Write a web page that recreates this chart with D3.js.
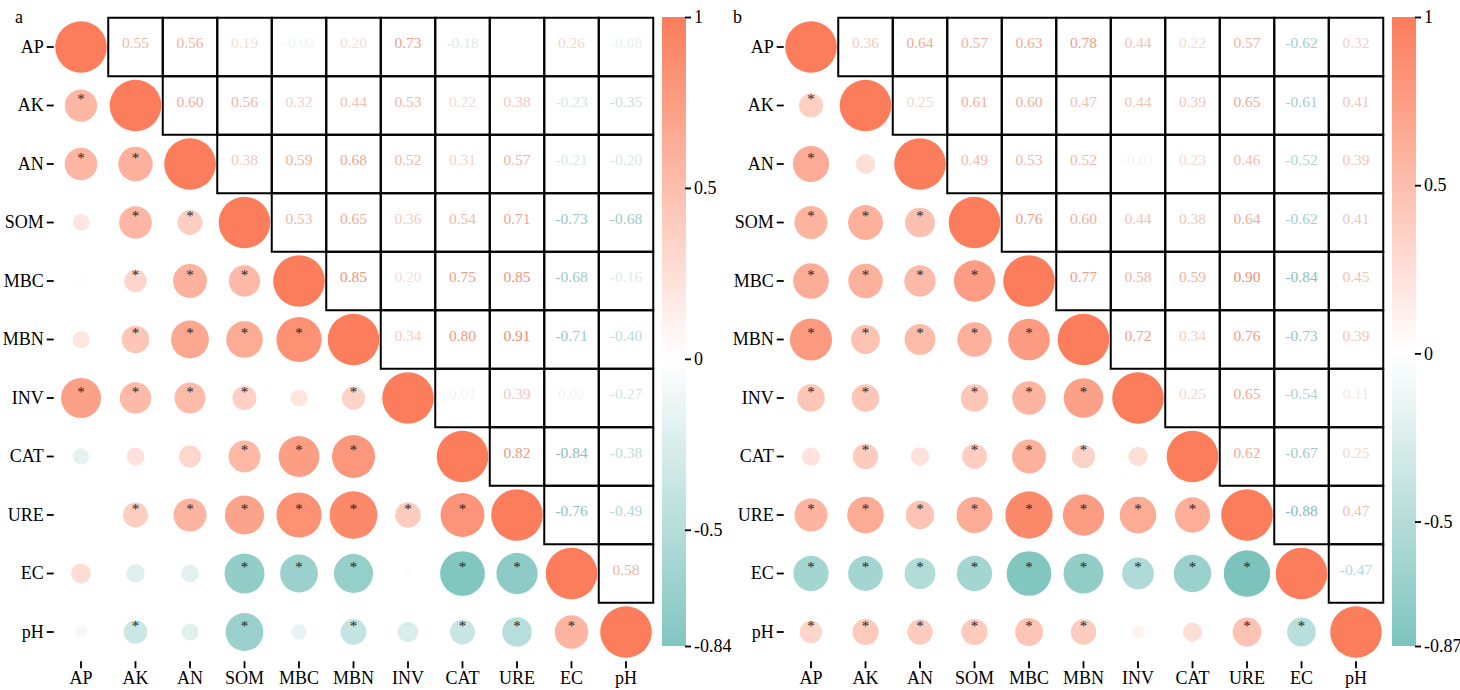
<!DOCTYPE html>
<html>
<head>
<meta charset="utf-8">
<script src="https://cdn.jsdelivr.net/npm/d3@7"></script>
<style>
  body { margin: 0; background: #fff; }
  svg text { font-family: "Liberation Serif", "Times New Roman", serif; }
</style>
</head>
<body>
<svg id="chart" width="1460" height="690"></svg>
<script>
// variables (rows top to bottom, columns left to right)
var vars = ["AP", "AK", "AN", "SOM", "MBC", "MBN", "INV", "CAT", "URE", "EC", "pH"];

// panel a - upper triangle, row i gives r for columns j > i (null = not shown)
var upperA = [
    [0.55, 0.56, 0.19, -0.02, 0.20, 0.73, -0.18, null, 0.26, -0.08],
    [0.60, 0.56, 0.32, 0.44, 0.53, 0.22, 0.38, -0.23, -0.35],
    [0.38, 0.59, 0.68, 0.52, 0.31, 0.57, -0.21, -0.20],
    [0.53, 0.65, 0.36, 0.54, 0.71, -0.73, -0.68],
    [0.85, 0.20, 0.75, 0.85, -0.68, -0.16],
    [0.34, 0.80, 0.91, -0.71, -0.40],
    [0.01, 0.39, 0.02, -0.27],
    [0.82, -0.84, -0.38],
    [-0.76, -0.49],
    [0.58]
];
// panel a - significance (*) in lower triangle, row i gives columns j < i
var sigA = [
    [],
    [1],
    [1, 1],
    [0, 1, 1],
    [0, 1, 1, 1],
    [0, 1, 1, 1, 1],
    [1, 1, 1, 1, 0, 1],
    [0, 0, 0, 1, 1, 1, 0],
    [0, 1, 1, 1, 1, 1, 1, 1],
    [0, 0, 0, 1, 1, 1, 0, 1, 1],
    [0, 1, 0, 1, 0, 1, 0, 1, 1, 1]
];
var legendTicksA = [1, 0.5, 0, -0.5, -0.84];

// panel b
var upperB = [
    [0.36, 0.64, 0.57, 0.63, 0.78, 0.44, 0.22, 0.57, -0.62, 0.32],
    [0.25, 0.61, 0.60, 0.47, 0.44, 0.39, 0.65, -0.61, 0.41],
    [0.49, 0.53, 0.52, -0.01, 0.23, 0.46, -0.52, 0.39],
    [0.76, 0.60, 0.44, 0.38, 0.64, -0.62, 0.41],
    [0.77, 0.58, 0.59, 0.90, -0.84, 0.45],
    [0.72, 0.34, 0.76, -0.73, 0.39],
    [0.25, 0.65, -0.54, 0.11],
    [0.62, -0.67, 0.25],
    [-0.88, 0.47],
    [-0.47]
];
var sigB = [
    [],
    [1],
    [1, 0],
    [1, 1, 1],
    [1, 1, 1, 1],
    [1, 1, 1, 1, 1],
    [1, 1, 0, 1, 1, 1],
    [0, 1, 0, 1, 1, 1, 0],
    [1, 1, 1, 1, 1, 1, 1, 1],
    [1, 1, 1, 1, 1, 1, 1, 1, 1],
    [1, 1, 1, 1, 1, 1, 0, 0, 1, 1]
];
var legendTicksB = [1, 0.5, 0, -0.5, -0.87];

// farbskala
var color = d3.scaleLinear()
    .domain([-1, 0, 1])
    .range(["#6abbb4", "#ffffff", "#fb7d5b"])
    .clamp(true);
// numbers: same scale, a touch darker so near-zero values stay faintly visible
function textColor(r) {
    return d3.interpolateRgb(color(r), "#9aa8a6")(0.12);
}

var radius = d3.scaleLinear().domain([0, 1]).range([4.3, 25.8]);

var serif = '"Liberation Serif", "Times New Roman", serif';
var svg = d3.select("#chart");
var defs = svg.append("defs");

function drawPanel(offsetX, label, labelX, upper, sig, legendTicks, id) {
    var g = svg.append("g").attr("transform", "translate(" + offsetX + ",0)");

    var x = d3.scaleBand().domain(vars).range([53.75, 53.75 + 54.5 * vars.length]);
    var y = d3.scaleBand().domain(vars).range([17.75, 17.75 + 58.5 * vars.length]);

    // build cells
    var cells = [];
    vars.forEach(function (rv, i) {
        vars.forEach(function (cv, j) {
            var r;
            if (i === j) r = 1;
            else if (j > i) r = upper[i][j - i - 1];
            else r = upper[j][i - j - 1];
            cells.push({ row: rv, col: cv, i: i, j: j, r: r, sig: j < i ? sig[i][j] : 0 });
        });
    });

    var upperCells = cells.filter(function (d) { return d.j > d.i; });
    var lowerCells = cells.filter(function (d) { return d.j <= d.i && d.r !== null; });

    // upper triangle boxes + numbers
    g.selectAll("rect.cell").data(upperCells).enter().append("rect")
        .attr("class", "cell")
        .attr("x", function (d) { return x(d.col); })
        .attr("y", function (d) { return y(d.row); })
        .attr("width", x.bandwidth())
        .attr("height", y.bandwidth())
        .attr("fill", "none")
        .attr("stroke", "#000")
        .attr("stroke-width", 2);

    g.selectAll("text.num").data(upperCells.filter(function (d) { return d.r !== null; })).enter().append("text")
        .attr("class", "num")
        .attr("x", function (d) { return x(d.col) + x.bandwidth() / 2; })
        .attr("y", function (d) { return y(d.row) + y.bandwidth() / 2 + 1; })
        .attr("text-anchor", "middle")
        .style("font-size", "15.5px")
        .style("fill", function (d) { return textColor(d.r); })
        .text(function (d) { return d.r.toFixed(2); });

    // lower triangle circles
    g.selectAll("circle.c").data(lowerCells).enter().append("circle")
        .attr("class", "c")
        .attr("cx", function (d) { return x(d.col) + x.bandwidth() / 2; })
        .attr("cy", function (d) { return y(d.row) + y.bandwidth() / 2; })
        .attr("r", function (d) { return radius(Math.abs(d.r)); })
        .attr("fill", function (d) { return color(d.r); });

    g.selectAll("text.star").data(lowerCells.filter(function (d) { return d.sig; })).enter().append("text")
        .attr("class", "star")
        .attr("x", function (d) { return x(d.col) + x.bandwidth() / 2; })
        .attr("y", function (d) { return y(d.row) + y.bandwidth() / 2 - 1.5; })
        .attr("text-anchor", "middle")
        .style("font-size", "15px")
        .style("fill", "#222")
        .text("*");

    // axes
    var yAxis = d3.axisLeft(y).tickSize(7).tickPadding(3);
    var ya = g.append("g").attr("transform", "translate(53.75,0)").call(yAxis);
    var xAxis = d3.axisBottom(x).tickSize(7).tickPadding(4);
    var xa = g.append("g").attr("transform", "translate(0,661.25)").call(xAxis);
    [ya, xa].forEach(function (a) {
        a.attr("font-size", 18).attr("font-family", serif);
        a.select(".domain").remove();
        a.selectAll("line").attr("stroke", "#000").attr("stroke-width", 1.8);
        a.selectAll("text")
            .style("font-family", serif)
            .style("font-size", "18px")
            .attr("fill", "#000");
    });
    xa.selectAll("text").attr("y", 10).attr("dy", "0.72em");

    // panel label
    g.append("text")
        .attr("x", labelX)
        .attr("y", 23)
        .style("font-size", "18px")
        .text(label);

    // colour bar
    var minV = legendTicks[legendTicks.length - 1];
    var bar = d3.scaleLinear().domain([minV, 1]).range([646, 17]);
    var grad = defs.append("linearGradient")
        .attr("id", id)
        .attr("x1", 0).attr("y1", 0).attr("x2", 0).attr("y2", 1);
    var stops = d3.range(0, 21).map(function (k) { return 1 - k * (1 - minV) / 20; });
    stops.push(0);
    stops.sort(function (a, b) { return b - a; });
    grad.selectAll("stop").data(stops).enter().append("stop")
        .attr("offset", function (v) { return (bar(v) - 17) / (646 - 17); })
        .attr("stop-color", function (v) { return color(v); });

    g.append("rect")
        .attr("x", 662)
        .attr("y", 17)
        .attr("width", 24)
        .attr("height", 646 - 17)
        .attr("fill", "url(#" + id + ")");

    var legAxis = d3.axisRight(bar).tickValues(legendTicks).tickSize(6).tickPadding(3)
        .tickFormat(function (d) { return String(d); });
    var la = g.append("g").attr("transform", "translate(685,0)").call(legAxis);
    la.attr("font-size", 18).attr("font-family", serif);
    la.select(".domain").remove();
    la.selectAll("line").attr("stroke", "#000").attr("stroke-width", 1.8);
    la.selectAll("text")
        .style("font-family", serif)
        .style("font-size", "18px")
        .attr("fill", "#000");
}

drawPanel(0, "a", 15, upperA, sigA, legendTicksA, "gradA");
drawPanel(730, "b", 3, upperB, sigB, legendTicksB, "gradB");
</script>
</body>
</html>
